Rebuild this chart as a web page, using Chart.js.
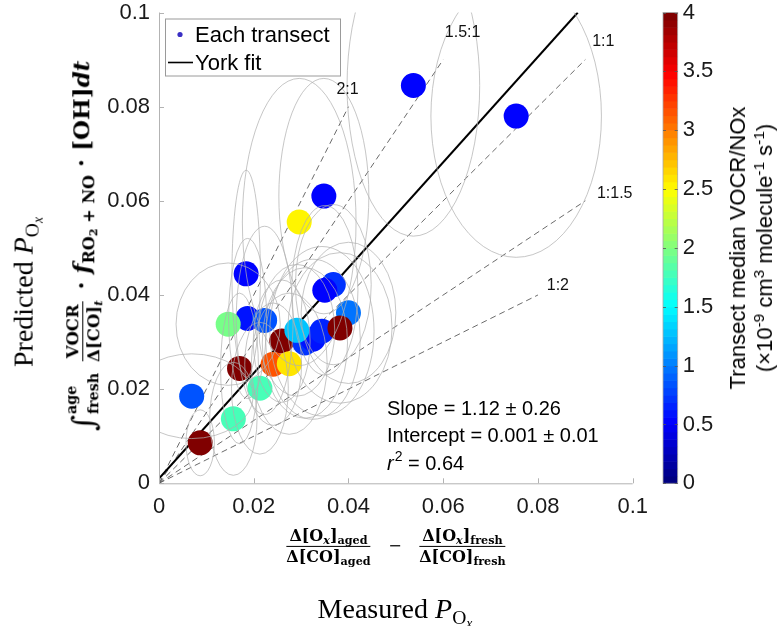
<!DOCTYPE html>
<html><head><meta charset="utf-8">
<script src="https://cdn.jsdelivr.net/npm/chart.js@4.4.1/dist/chart.umd.min.js"></script>
<style>
html,body{margin:0;padding:0;background:#fff;}
#wrap{position:relative;width:780px;height:626px;overflow:hidden;background:#fff;}
#c{position:absolute;left:0;top:0;}
.lab{position:absolute;white-space:nowrap;color:#000;line-height:1.1;}
.rot{transform:translate(-50%,-50%) rotate(-90deg);}
.ctr{transform:translate(-50%,-50%);}
.serif{font-family:"Liberation Serif","Times New Roman",serif;}
.bf{font-family:"DejaVu Serif",serif;font-weight:bold;}
.sans{font-family:"Liberation Sans",Arial,sans-serif;}
sub{font-size:0.7em;vertical-align:-0.3em;line-height:0;}
sup{font-size:0.7em;vertical-align:0.55em;line-height:0;}
.frac{display:inline-flex;flex-direction:column;align-items:center;vertical-align:middle;}
.frac .num{border-bottom:1.3px solid #000;padding:0 3px 1px 3px;}
.frac .den{padding:1px 3px 0 3px;}
.sm{font-size:0.72em;}
.lims{display:inline-flex;flex-direction:column;justify-content:space-between;vertical-align:middle;font-size:0.62em;height:2.6em;margin-left:1px;}
.int{font-size:1.35em;font-weight:normal;vertical-align:middle;}
</style>
</head>
<body>
<div id="wrap">
<canvas id="c" width="780" height="626"></canvas>

<div class="lab serif rot" style="left:24px;top:292px;font-size:28px;">Predicted <i>P</i><sub>O<sub><i>x</i></sub></sub></div>

<div class="lab bf rot" style="left:83px;top:246px;font-size:23px;">
<span class="int">∫</span><span class="lims"><span>age</span><span>fresh</span></span>
<span class="frac sm"><span class="num">VOCR</span><span class="den">Δ[CO]<sub><i>t</i></sub></span></span>
· <i>f</i><sub>RO<sub>2</sub> + NO</sub> · [OH]<i>dt</i></div>

<div class="lab bf ctr" style="left:396px;top:546px;font-size:16px;">
<span class="frac"><span class="num">Δ[O<sub><i>x</i></sub>]<sub>aged</sub></span><span class="den">Δ[CO]<sub>aged</sub></span></span>
<span style="font-weight:normal;margin:0 9px;">−</span>
<span class="frac"><span class="num">Δ[O<sub><i>x</i></sub>]<sub>fresh</sub></span><span class="den">Δ[CO]<sub>fresh</sub></span></span></div>

<div class="lab serif ctr" style="left:395px;top:609px;font-size:28px;">Measured <i>P</i><sub>O<sub><i>x</i></sub></sub></div>

<div class="lab sans rot" style="left:751px;top:248px;font-size:22px;line-height:27px;text-align:center;">Transect median VOCR/NOx<br>(×10<sup>-9</sup> cm<sup>3</sup> molecule<sup>-1</sup> s<sup>-1</sup>)</div>
</div>

<script>
// ---- data ----
const ptX = [0.0087, 0.0157, 0.0069, 0.0213, 0.0170, 0.0187, 0.0223, 0.0146, 0.0184, 0.0259,
             0.0308, 0.0325, 0.0291, 0.0344, 0.0400, 0.0382, 0.0368, 0.0350, 0.0241, 0.0275,
             0.0296, 0.0348, 0.0537, 0.0754];
const ptY = [0.0086, 0.0137, 0.0185, 0.0202, 0.0244, 0.0350, 0.0346, 0.0338, 0.0445, 0.0302,
             0.0298, 0.0306, 0.0325, 0.0323, 0.0362, 0.0330, 0.0422, 0.0410, 0.0253, 0.0254,
             0.0555, 0.0610, 0.0845, 0.0780];
const ptVOCRNOx = [4.0, 1.8, 0.85, 1.75, 3.95, 0.6, 0.85, 1.95, 0.55, 4.0,
                   0.7, 0.6, 1.25, 0.65, 0.95, 3.95, 0.7, 0.55, 3.15, 2.6,
                   2.5, 0.55, 0.5, 0.5];
const errX = [0.003, 0.005, 0.013, 0.006, 0.004, 0.004, 0.006, 0.011, 0.003, 0.006,
              0.009, 0.010, 0.008, 0.011, 0.010, 0.011, 0.008, 0.007, 0.006, 0.008,
              0.012, 0.0095, 0.014, 0.018];
const errY = [0.007, 0.012, 0.009, 0.014, 0.016, 0.017, 0.020, 0.013, 0.022, 0.013,
              0.016, 0.017, 0.014, 0.018, 0.015, 0.016, 0.017, 0.018, 0.013, 0.015,
              0.0305, 0.025, 0.032, 0.030];
const ratioVals   = [2, 1.5, 1, 1/1.5, 0.5];
const ratioNames  = ['2:1', '1.5:1', '1:1', '1:1.5', '1:2'];
const ratioEndX   = [0.04, 0.06, 0.09, 0.09, 0.08];
const ratioLabelX = [0.0398, 0.0641, 0.0938, 0.0962, 0.0842];
const ratioLabelY = [0.0837, 0.0957, 0.0938, 0.0616, 0.0420];
const fitSlope = 1.12, fitIntercept = 0.001, fitEndX = 0.0884;
const xTicks = [0, 0.02, 0.04, 0.06, 0.08, 0.1];
const yTicks = [0, 0.02, 0.04, 0.06, 0.08, 0.1];
const cbTicks = [0, 0.5, 1, 1.5, 2, 2.5, 3, 3.5, 4];
const cbMin = 0, cbMax = 4;
const statLines = ['Slope = 1.12 \u00b1 0.26', 'Intercept = 0.001 \u00b1 0.01', '= 0.64'];

// ---- helpers ----
function jet(v) {
  let t = (v - cbMin) / (cbMax - cbMin);
  t = Math.min(1, Math.max(0, t));
  t = Math.min(63, Math.floor(t * 64)) / 63;
  const c = x => Math.round(255 * Math.min(1, Math.max(0, 1.5 - Math.abs(x))));
  return `rgb(${c(4 * t - 3)},${c(4 * t - 2)},${c(4 * t - 1)})`;
}
const fmt = v => String(+(+v).toFixed(3));
const SANS = '"Liberation Sans", Arial, sans-serif';

const points = ptX.map((x, i) => ({ x: x, y: ptY[i] }));
const datasets = [{
  label: 'Each transect', data: points,
  backgroundColor: ptVOCRNOx.map(jet), borderWidth: 0,
  pointRadius: 12.5, pointHoverRadius: 12.5, showLine: false, order: 0
}, {
  label: 'York fit',
  data: [{ x: 0, y: fitIntercept }, { x: fitEndX, y: fitSlope * fitEndX + fitIntercept }],
  showLine: true, borderColor: '#000', borderWidth: 2, pointRadius: 0, order: 1
}];
ratioVals.forEach((r, i) => {
  datasets.push({
    label: ratioNames[i],
    data: [{ x: 0, y: 0 }, { x: ratioEndX[i], y: r * ratioEndX[i] }],
    showLine: true, borderColor: '#5a5a5a', borderWidth: 0.9, borderDash: [6, 4],
    pointRadius: 0, order: 2
  });
});

const deco = {
  id: 'deco',
  afterDatasetsDraw(chart) {
    const { ctx, chartArea: a, scales: { x, y } } = chart;
    ctx.save();
    ctx.beginPath(); ctx.rect(a.left, a.top, a.right - a.left, a.bottom - a.top); ctx.clip();
    ctx.strokeStyle = 'rgba(175,175,175,0.8)'; ctx.lineWidth = 0.9;
    ptX.forEach((px, i) => {
      const cx = x.getPixelForValue(px), cy = y.getPixelForValue(ptY[i]);
      const rx = Math.abs(x.getPixelForValue(px + errX[i]) - cx);
      const ry = Math.abs(y.getPixelForValue(ptY[i] + errY[i]) - cy);
      ctx.beginPath(); ctx.ellipse(cx, cy, rx, ry, 0, 0, Math.PI * 2); ctx.stroke();
    });
    ctx.restore();
  },
  afterDraw(chart) {
    const { ctx, chartArea: a, scales: { x, y, cb } } = chart;
    ctx.save();
    // axes lines and inward ticks
    ctx.strokeStyle = '#b3b3b3'; ctx.lineWidth = 1;
    ctx.beginPath();
    ctx.moveTo(a.left + 0.5, a.top); ctx.lineTo(a.left + 0.5, a.bottom + 0.5); ctx.lineTo(a.right, a.bottom + 0.5);
    xTicks.forEach(v => { const p = Math.round(x.getPixelForValue(v)) + 0.5; ctx.moveTo(p, a.bottom); ctx.lineTo(p, a.bottom - 5); });
    yTicks.forEach(v => { const p = Math.round(y.getPixelForValue(v)) + 0.5; ctx.moveTo(a.left, p); ctx.lineTo(a.left + 5, p); });
    ctx.stroke();

    // ratio labels
    ctx.fillStyle = '#111'; ctx.font = '16px ' + SANS; ctx.textAlign = 'center'; ctx.textBaseline = 'middle';
    ratioNames.forEach((n, i) => ctx.fillText(n, x.getPixelForValue(ratioLabelX[i]), y.getPixelForValue(ratioLabelY[i])));

    // stats text
    ctx.font = '20px ' + SANS; ctx.textAlign = 'left'; ctx.textBaseline = 'alphabetic'; ctx.fillStyle = '#000';
    const sx = a.left + 228;
    ctx.fillText(statLines[0], sx, a.bottom - 68);
    ctx.fillText(statLines[1], sx, a.bottom - 41);
    ctx.font = 'italic 20px ' + SANS; ctx.fillText('r', sx, a.bottom - 13);
    let w = ctx.measureText('r').width;
    ctx.font = '14px ' + SANS; ctx.fillText('2', sx + w + 1, a.bottom - 22);
    w += ctx.measureText('2').width + 1;
    ctx.font = '20px ' + SANS; ctx.fillText(' ' + statLines[2], sx + w, a.bottom - 13);

    // legend
    const lx = a.left + 6.5, ly = a.top + 6.5, lw = 175, lh = 57;
    ctx.fillStyle = '#fff'; ctx.fillRect(lx, ly, lw, lh);
    ctx.strokeStyle = '#9a9a9a'; ctx.lineWidth = 1; ctx.strokeRect(lx, ly, lw, lh);
    ctx.fillStyle = '#3a2fc4'; ctx.beginPath(); ctx.arc(lx + 14.5, ly + 15.5, 2.6, 0, Math.PI * 2); ctx.fill();
    ctx.strokeStyle = '#000'; ctx.lineWidth = 1.6;
    ctx.beginPath(); ctx.moveTo(lx + 2.5, ly + 43.5); ctx.lineTo(lx + 27.5, ly + 43.5); ctx.stroke();
    ctx.fillStyle = '#000'; ctx.font = '22px ' + SANS; ctx.textBaseline = 'middle';
    ctx.fillText('Each transect', lx + 29.5, ly + 16.5);
    ctx.fillText('York fit', lx + 29.5, ly + 44.5);

    // colorbar
    const bx0 = a.right + 30.3, bx1 = a.right + 45;
    const n = 64;
    for (let i = 0; i < n; i++) {
      const v0 = cbMin + (cbMax - cbMin) * i / n, v1 = cbMin + (cbMax - cbMin) * (i + 1) / n;
      const p0 = cb.getPixelForValue(v0), p1 = cb.getPixelForValue(v1);
      ctx.fillStyle = jet((v0 + v1) / 2);
      ctx.fillRect(bx0, p1, bx1 - bx0, p0 - p1 + 0.6);
    }
    ctx.strokeStyle = '#a8a8a8'; ctx.lineWidth = 0.8;
    ctx.strokeRect(bx0, cb.getPixelForValue(cbMax), bx1 - bx0, cb.getPixelForValue(cbMin) - cb.getPixelForValue(cbMax));
    ctx.beginPath();
    cbTicks.forEach(v => { const p = Math.round(cb.getPixelForValue(v)) + 0.5; ctx.moveTo(bx1, p); ctx.lineTo(bx1 - 3, p); ctx.moveTo(bx0, p); ctx.lineTo(bx0 + 3, p); });
    ctx.strokeStyle = '#555'; ctx.stroke();
    ctx.restore();
  }
};

const tickFont = { family: SANS, size: 22, lineHeight: 1 };
const vFit = w => s => { s.width = w; s.paddingTop = 0; s.paddingBottom = 0; };
new Chart(document.getElementById('c'), {
  type: 'scatter',
  data: { datasets: datasets },
  options: {
    responsive: false, animation: false, events: [],
    layout: { padding: { top: 11.3, left: 0, right: 0, bottom: 0 } },
    plugins: { legend: { display: false }, tooltip: { enabled: false } },
    scales: {
      x: {
        type: 'linear', min: 0, max: 0.1,
        afterBuildTicks: s => { s.ticks = xTicks.map(v => ({ value: v })); },
        afterFit: s => { s.height = 142.7; s.paddingLeft = 0; s.paddingRight = 0; },
        grid: { display: false, drawTicks: false }, border: { display: false },
        ticks: { padding: 13, font: tickFont, color: '#1a1a1a', maxRotation: 0, autoSkip: false, callback: v => fmt(v) }
      },
      y: {
        type: 'linear', min: 0, max: 0.1,
        afterBuildTicks: s => { s.ticks = yTicks.map(v => ({ value: v })); },
        afterFit: vFit(159),
        grid: { display: false, drawTicks: false }, border: { display: false },
        ticks: { padding: 9, font: tickFont, color: '#1a1a1a', autoSkip: false, callback: v => fmt(v) }
      },
      cb: {
        axis: 'y', type: 'linear', position: 'right', min: cbMin, max: cbMax,
        afterBuildTicks: s => { s.ticks = cbTicks.map(v => ({ value: v })); },
        afterFit: vFit(147.3),
        grid: { display: false, drawTicks: false }, border: { display: false },
        ticks: { padding: 50, font: tickFont, color: '#1a1a1a', autoSkip: false, callback: v => fmt(v) }
      }
    }
  },
  plugins: [deco]
});
</script>
</body></html>
